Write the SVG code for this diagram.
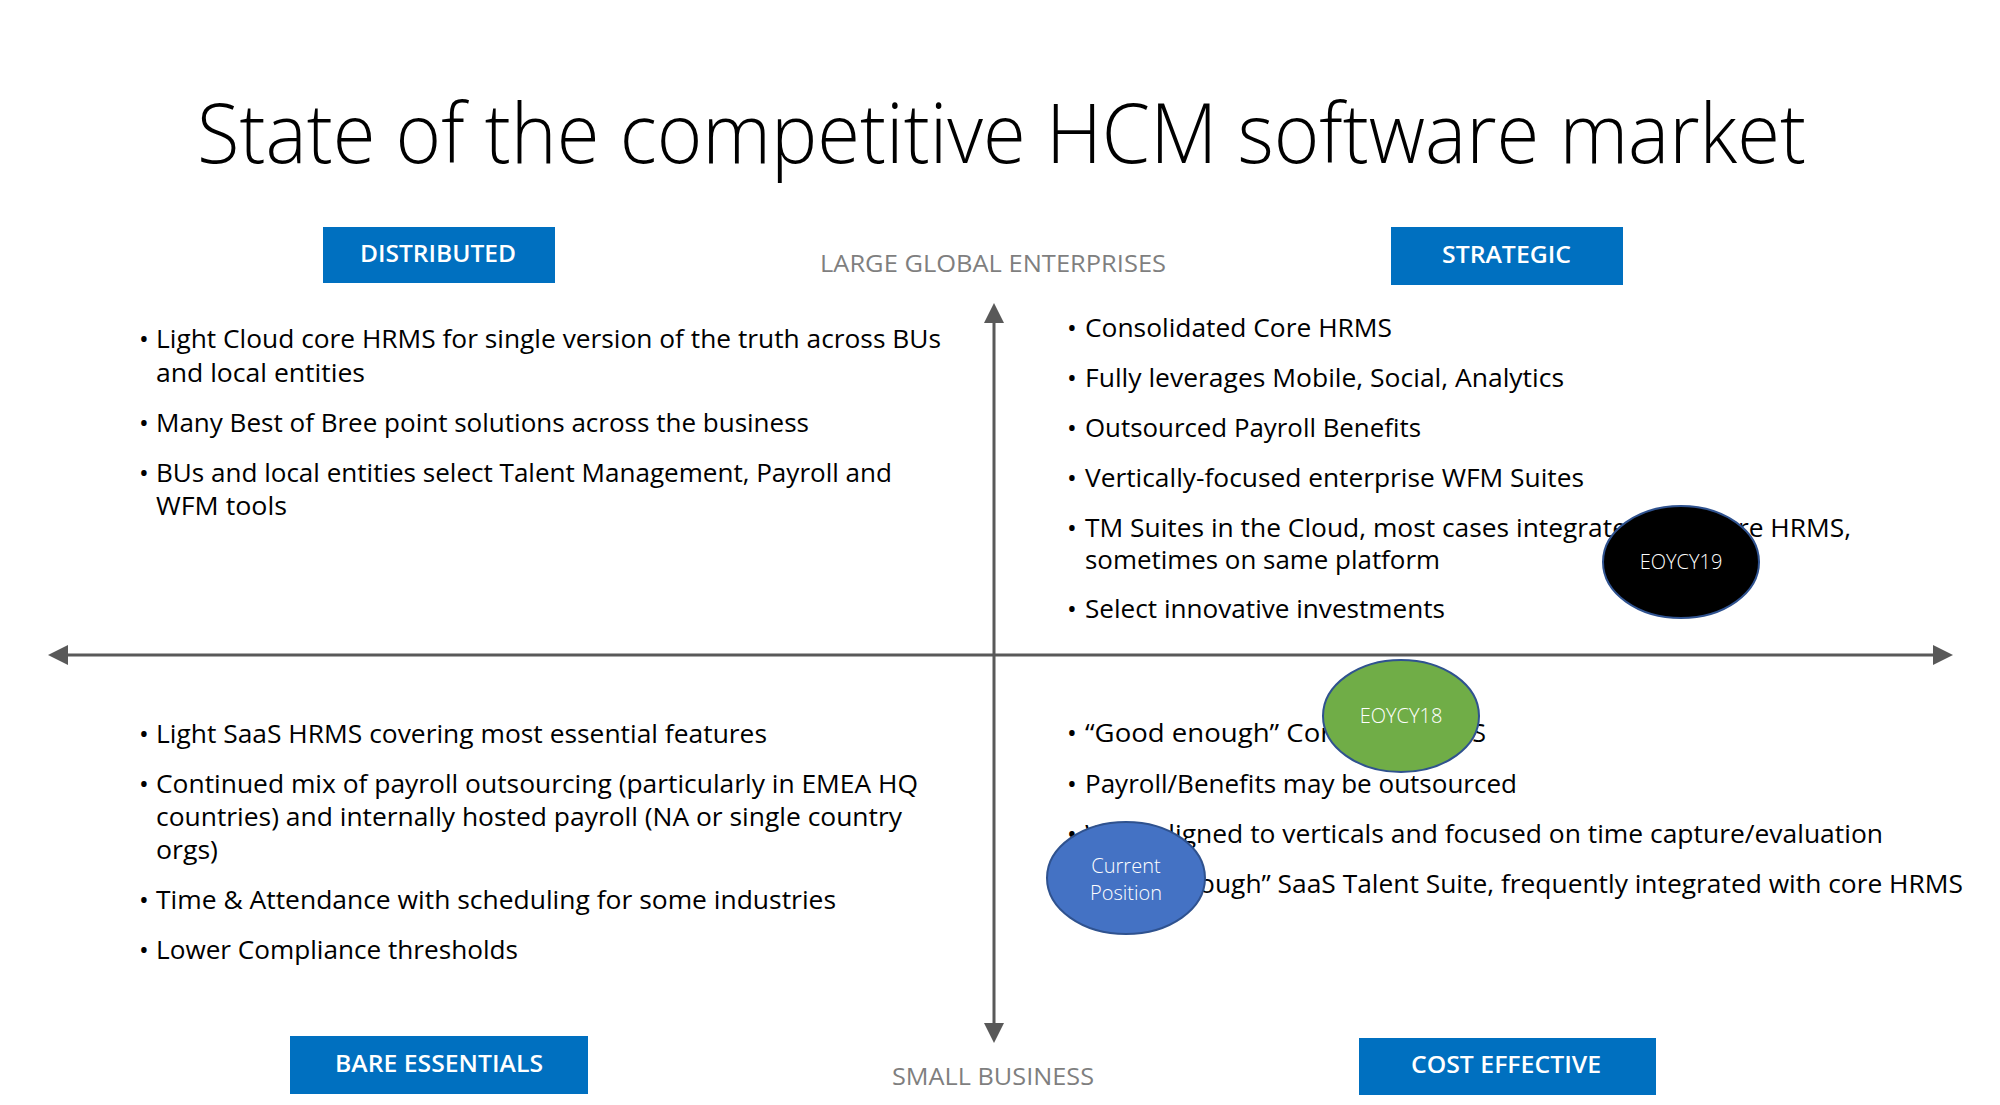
<svg xmlns="http://www.w3.org/2000/svg" width="2000" height="1105" viewBox="0 0 2000 1105">
<style>
text{font-family:"Open Sans","Noto Sans","Liberation Sans",sans-serif;}
.title{font-size:83px;font-weight:300;fill:#000;}
.body{font-size:26px;fill:#000;}
.bul{font-size:26px;fill:#000;}
.lbl{font-size:23px;font-weight:600;fill:#fff;}
.axl{font-size:23px;fill:#7f7f7f;}
.box{fill:#0070c0;}
.ax{stroke:#595959;stroke-width:3;fill:none;}
.ah{fill:#595959;}
.circ{stroke:#2f528f;stroke-width:2;}
.ct{font-size:20px;font-weight:300;fill:#fff;text-anchor:middle;}
</style>
<rect width="2000" height="1105" fill="#fff"/>
<g id="title">
<text class="title" x="197" y="163" textLength="1609" lengthAdjust="spacingAndGlyphs">State of the competitive HCM software market</text>
</g>
<g id="connectors">
<line class="ax" x1="66" y1="655" x2="1935" y2="655"/>
<polygon class="ah" points="48,655 68,645 68,665"/>
<polygon class="ah" points="1953,655 1933,645 1933,665"/>
<line class="ax" x1="994" y1="321" x2="994" y2="1025"/>
<polygon class="ah" points="994,303 984,323 1004,323"/>
<polygon class="ah" points="994,1043 984,1023 1004,1023"/>
</g>
<g id="axis-labels">
<text class="axl" x="820" y="272" textLength="346" lengthAdjust="spacingAndGlyphs">LARGE GLOBAL ENTERPRISES</text>
<text class="axl" x="892" y="1085" textLength="202" lengthAdjust="spacingAndGlyphs">SMALL BUSINESS</text>
</g>
<g id="distributed">
<rect class="box" x="323" y="227" width="232" height="56"/>
<text class="lbl" x="360" y="262" textLength="156" lengthAdjust="spacingAndGlyphs">DISTRIBUTED</text>
</g>
<g id="strategic">
<rect class="box" x="1391" y="227" width="232" height="58"/>
<text class="lbl" x="1442" y="263" textLength="129" lengthAdjust="spacingAndGlyphs">STRATEGIC</text>
</g>
<g id="bare-essentials">
<rect class="box" x="290" y="1036" width="298" height="58"/>
<text class="lbl" x="335" y="1072" textLength="208" lengthAdjust="spacingAndGlyphs">BARE ESSENTIALS</text>
</g>
<g id="cost-effective">
<rect class="box" x="1359" y="1038" width="297" height="57"/>
<text class="lbl" x="1411" y="1073" textLength="190" lengthAdjust="spacingAndGlyphs">COST EFFECTIVE</text>
</g>
<g id="distributed-text">
<text class="bul" x="139" y="348">•</text>
<text class="body" x="156" y="348" textLength="785" lengthAdjust="spacingAndGlyphs">Light Cloud core HRMS for single version of the truth across BUs</text>
<text class="body" x="156" y="382" textLength="209" lengthAdjust="spacingAndGlyphs">and local entities</text>
<text class="bul" x="139" y="432">•</text>
<text class="body" x="156" y="432" textLength="653" lengthAdjust="spacingAndGlyphs">Many Best of Bree point solutions across the business</text>
<text class="bul" x="139" y="482">•</text>
<text class="body" x="156" y="482" textLength="736" lengthAdjust="spacingAndGlyphs">BUs and local entities select Talent Management, Payroll and</text>
<text class="body" x="156" y="515" textLength="131" lengthAdjust="spacingAndGlyphs">WFM tools</text>
</g>
<g id="strategic-text">
<text class="bul" x="1067" y="337">•</text>
<text class="body" x="1085" y="337" textLength="307" lengthAdjust="spacingAndGlyphs">Consolidated Core HRMS</text>
<text class="bul" x="1067" y="387">•</text>
<text class="body" x="1085" y="387" textLength="479" lengthAdjust="spacingAndGlyphs">Fully leverages Mobile, Social, Analytics</text>
<text class="bul" x="1067" y="437">•</text>
<text class="body" x="1085" y="437" textLength="336" lengthAdjust="spacingAndGlyphs">Outsourced Payroll Benefits</text>
<text class="bul" x="1067" y="487">•</text>
<text class="body" x="1085" y="487" textLength="499" lengthAdjust="spacingAndGlyphs">Vertically-focused enterprise WFM Suites</text>
<text class="bul" x="1067" y="537">•</text>
<text class="body" x="1085" y="537" textLength="766" lengthAdjust="spacingAndGlyphs">TM Suites in the Cloud, most cases integrated with core HRMS,</text>
<text class="body" x="1085" y="569" textLength="355" lengthAdjust="spacingAndGlyphs">sometimes on same platform</text>
<text class="bul" x="1067" y="618">•</text>
<text class="body" x="1085" y="618" textLength="360" lengthAdjust="spacingAndGlyphs">Select innovative investments</text>
</g>
<g id="bare-essentials-text">
<text class="bul" x="139" y="743">•</text>
<text class="body" x="156" y="743" textLength="611" lengthAdjust="spacingAndGlyphs">Light SaaS HRMS covering most essential features</text>
<text class="bul" x="139" y="793">•</text>
<text class="body" x="156" y="793" textLength="762" lengthAdjust="spacingAndGlyphs">Continued mix of payroll outsourcing (particularly in EMEA HQ</text>
<text class="body" x="156" y="826" textLength="746" lengthAdjust="spacingAndGlyphs">countries) and internally hosted payroll (NA or single country</text>
<text class="body" x="156" y="859" textLength="62" lengthAdjust="spacingAndGlyphs">orgs)</text>
<text class="bul" x="139" y="909">•</text>
<text class="body" x="156" y="909" textLength="680" lengthAdjust="spacingAndGlyphs">Time &amp; Attendance with scheduling for some industries</text>
<text class="bul" x="139" y="959">•</text>
<text class="body" x="156" y="959" textLength="362" lengthAdjust="spacingAndGlyphs">Lower Compliance thresholds</text>
</g>
<g id="cost-effective-text">
<text class="bul" x="1067" y="742">•</text>
<text class="body" x="1085" y="742"><tspan textLength="262" lengthAdjust="spacingAndGlyphs">“Good enough” Core</tspan><tspan x="1416" textLength="70" lengthAdjust="spacingAndGlyphs">HRMS</tspan></text>
<text class="bul" x="1067" y="793">•</text>
<text class="body" x="1085" y="793" textLength="432" lengthAdjust="spacingAndGlyphs">Payroll/Benefits may be outsourced</text>
<text class="bul" x="1067" y="843">•</text>
<text class="body" x="1085" y="843" textLength="798" lengthAdjust="spacingAndGlyphs">WFM aligned to verticals and focused on time capture/evaluation</text>
<text class="bul" x="1067" y="893">•</text>
<text class="body" x="1085" y="893" textLength="878" lengthAdjust="spacingAndGlyphs">“Good enough” SaaS Talent Suite, frequently integrated with core HRMS</text>
</g>
<g id="eoycy19">
<ellipse class="circ" cx="1681" cy="562" rx="78" ry="56" fill="#000"/>
<text class="ct" x="1681" y="569">EOYCY19</text>
</g>
<g id="eoycy18">
<ellipse class="circ" cx="1401" cy="716" rx="78" ry="56" fill="#70ad47"/>
<text class="ct" x="1401" y="723" fill="#f2f2f2">EOYCY18</text>
</g>
<g id="current-position">
<ellipse class="circ" cx="1126" cy="878" rx="79" ry="56" fill="#4472c4"/>
<text class="ct" x="1126" y="873">Current</text>
<text class="ct" x="1126" y="900">Position</text>
</g>
</svg>
